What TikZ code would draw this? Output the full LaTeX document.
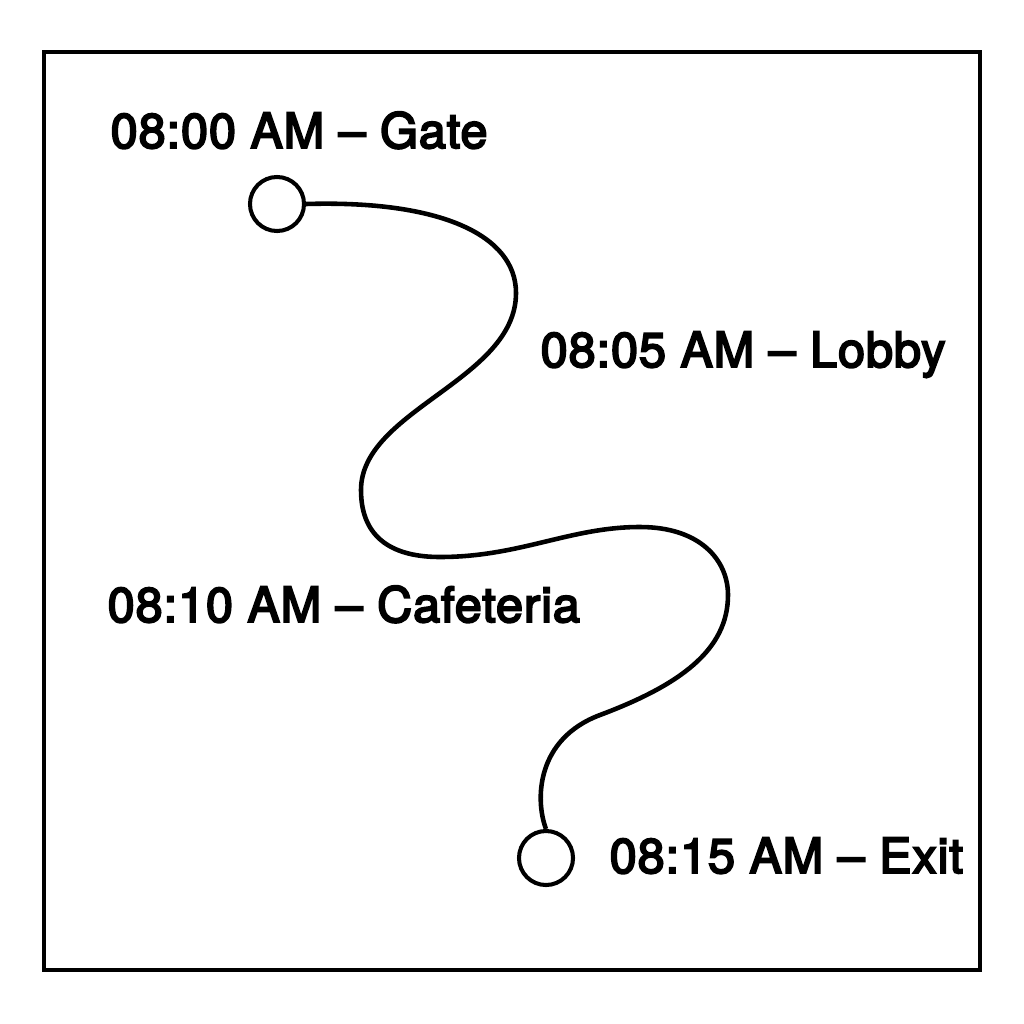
\documentclass[tikz,border=0pt]{standalone}
\usepackage{fontspec}
\setmainfont{TeX Gyre Heros}
\usepackage{tikz}

\begin{document}
\begin{tikzpicture}[
    x=0.01cm, y=-0.01cm,
    stop/.style={circle, draw, line width=1.15pt, minimum size=0.54cm, inner sep=0pt},
    stamp/.style={anchor=base west, inner sep=0pt, font=\fontsize{13.8pt}{16pt}\selectfont\addfontfeatures{FakeBold=4,LetterSpace=2}},
    route/.style={line width=1.3pt}
]
    % Page and frame
    \useasboundingbox (0,0) rectangle (1024,1024);
    \draw[line width=0.9pt] (44,52) rectangle (980,970);

    % Start and end stops
    \node[stop] (gate) at (277,204) {};
    \node[stop] (exit) at (546,858) {};

    % Time labels
    \node[stamp] (gatelabel) at (110,148) {08:00 AM -- Gate};
    \node[stamp] (lobbylabel) at (540,367) {08:05 AM -- Lobby};
    \node[stamp] (cafelabel) at (107,622) {08:10 AM -- Cafeteria};
    \node[stamp] (exitlabel) at (609,873) {08:15 AM -- Exit};

    % Winding route
    \draw[route] (gate.east)
        .. controls (440,200) and (516,235) .. (516,293)
        .. controls (516,380) and (361,410) .. (361,490)
        .. controls (361,540) and (395,557) .. (440,557)
        .. controls (520,557) and (570,527) .. (640,527)
        .. controls (700,527) and (728,560) .. (728,595)
        .. controls (728,650) and (680,685) .. (600,715)
        .. controls (536,739) and (535,800) .. (exit.north);
\end{tikzpicture}
\end{document}
